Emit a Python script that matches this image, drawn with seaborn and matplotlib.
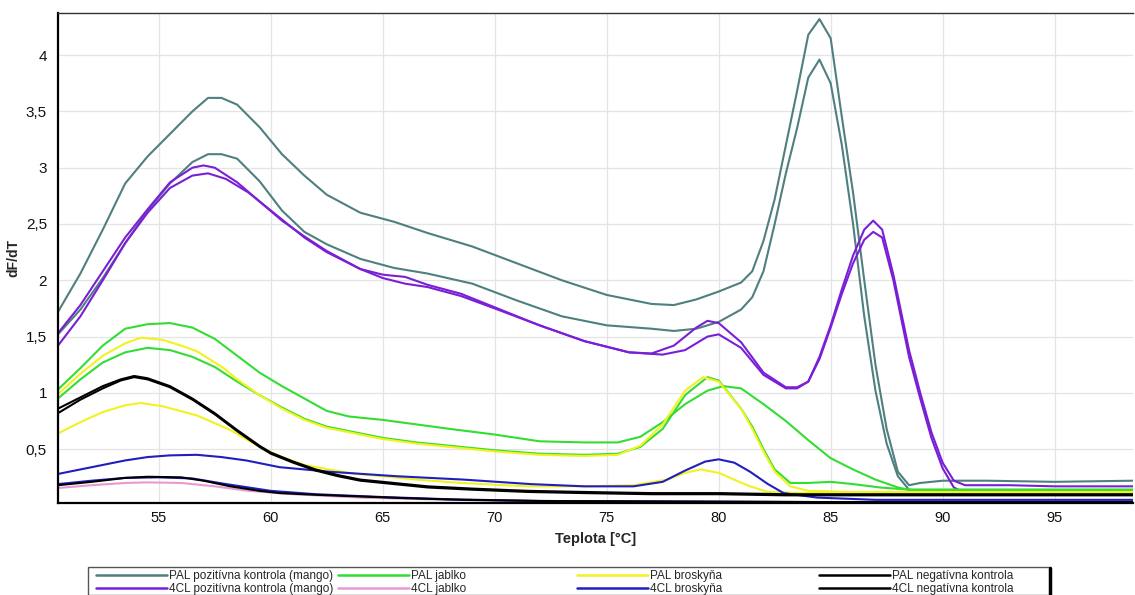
import matplotlib
matplotlib.use("Agg")
import matplotlib.pyplot as plt
from matplotlib.lines import Line2D
from matplotlib.patches import Rectangle
import seaborn as sns
import pandas as pd

# ---------------- data ----------------
series_names = [
    "PAL pozitívna kontrola (mango)", "PAL jablko", "PAL broskyňa", "PAL negatívna kontrola",
    "4CL pozitívna kontrola (mango)", "4CL jablko", "4CL broskyňa", "4CL negatívna kontrola",
]
series_colors = ["#4f7f7f", "#33dd33", "#f2f21e", "#000000",
                 "#7a1fd6", "#e79ad0", "#1f1fc0", "#000000"]

x_ticks = [55, 60, 65, 70, 75, 80, 85, 90, 95]
y_ticks = [0.5, 1, 1.5, 2, 2.5, 3, 3.5, 4]
y_tick_labels = ["0,5", "1", "1,5", "2", "2,5", "3", "3,5", "4"]

# PAL pozitívna kontrola (mango) - two replicates
pal_poz_t1 = [50.5, 51.5, 52.5, 53.5, 54.5, 55.5, 56.5, 57.2, 57.8, 58.5, 59.5, 60.5, 61.5, 62.5, 64, 65.5, 67, 69, 71, 73, 75, 77, 78, 79, 80, 81, 81.5, 82, 82.5, 83, 83.5, 84, 84.5, 85, 85.5, 86, 86.5, 87, 87.5, 88, 88.5, 89, 90, 92, 95, 98.5]
pal_poz_v1 = [1.72, 2.06, 2.45, 2.86, 3.10, 3.30, 3.50, 3.62, 3.62, 3.56, 3.36, 3.12, 2.93, 2.76, 2.60, 2.52, 2.42, 2.30, 2.15, 2.00, 1.87, 1.79, 1.78, 1.83, 1.90, 1.98, 2.08, 2.35, 2.72, 3.20, 3.68, 4.18, 4.32, 4.15, 3.45, 2.78, 2.00, 1.25, 0.68, 0.30, 0.18, 0.20, 0.22, 0.22, 0.21, 0.22]
pal_poz_t2 = [50.5, 51.5, 52.5, 53.5, 54.5, 55.5, 56.5, 57.2, 57.8, 58.5, 59.5, 60.5, 61.5, 62.5, 64, 65.5, 67, 69, 71, 73, 75, 77, 78, 79, 80, 81, 81.5, 82, 82.5, 83, 83.5, 84, 84.5, 85, 85.5, 86, 86.5, 87, 87.5, 88, 88.5, 89, 90, 92, 95, 98.5]
pal_poz_v2 = [1.52, 1.74, 2.02, 2.33, 2.62, 2.86, 3.05, 3.12, 3.12, 3.08, 2.88, 2.62, 2.43, 2.32, 2.19, 2.11, 2.06, 1.97, 1.82, 1.68, 1.60, 1.57, 1.55, 1.57, 1.63, 1.74, 1.85, 2.08, 2.50, 2.95, 3.35, 3.80, 3.96, 3.75, 3.20, 2.50, 1.68, 1.02, 0.55, 0.26, 0.14, 0.13, 0.13, 0.13, 0.13, 0.13]

# 4CL pozitívna kontrola (mango)
cl_poz_t1 = [50.5, 51.5, 52.5, 53.5, 54.5, 55.5, 56.5, 57, 57.5, 58.5, 59.5, 60.5, 61.5, 62.5, 64, 65, 66, 67, 68.5, 70, 72, 74, 76, 77, 78, 79, 79.5, 80, 81, 82, 83, 83.5, 84, 84.5, 85, 85.5, 86, 86.5, 86.9, 87.3, 87.8, 88.5, 89, 89.5, 90, 90.5, 91, 93, 95, 98.5]
cl_poz_v1 = [1.53, 1.78, 2.08, 2.38, 2.63, 2.87, 3.00, 3.02, 3.00, 2.87, 2.70, 2.53, 2.39, 2.26, 2.10, 2.05, 2.03, 1.96, 1.88, 1.76, 1.60, 1.46, 1.36, 1.35, 1.42, 1.58, 1.64, 1.62, 1.45, 1.18, 1.05, 1.05, 1.10, 1.32, 1.60, 1.92, 2.22, 2.45, 2.53, 2.45, 2.05, 1.38, 1.00, 0.65, 0.38, 0.22, 0.18, 0.18, 0.17, 0.17]
cl_poz_t2 = [50.5, 51.5, 52.5, 53.5, 54.5, 55.5, 56.5, 57.2, 58, 59, 60, 61.5, 62.5, 64, 65, 66, 67, 68.5, 70, 72, 74, 76, 77.5, 78.5, 79.5, 80, 81, 82, 83, 83.5, 84, 84.5, 85, 85.5, 86, 86.5, 86.9, 87.3, 87.8, 88.5, 89, 89.5, 90, 90.5, 91, 95, 98.5]
cl_poz_v2 = [1.42, 1.68, 2.00, 2.33, 2.60, 2.82, 2.93, 2.95, 2.90, 2.78, 2.62, 2.38, 2.25, 2.10, 2.02, 1.97, 1.94, 1.86, 1.75, 1.60, 1.46, 1.36, 1.34, 1.38, 1.50, 1.52, 1.40, 1.16, 1.04, 1.04, 1.10, 1.30, 1.58, 1.88, 2.15, 2.36, 2.43, 2.38, 2.00, 1.32, 0.95, 0.60, 0.33, 0.16, 0.11, 0.11, 0.11]

# PAL jablko
pal_jab_t1 = [50.5, 51.5, 52.5, 53.5, 54.5, 55.5, 56.5, 57.5, 58.5, 59.5, 60.5, 61.5, 62.5, 63.5, 65, 66.5, 68, 70, 72, 74, 75.5, 76.5, 77.5, 78.5, 79.5, 80.2, 81, 82, 83, 84, 85, 86, 87, 88, 88.5, 90, 95, 98.5]
pal_jab_v1 = [1.03, 1.22, 1.42, 1.57, 1.61, 1.62, 1.58, 1.48, 1.33, 1.18, 1.06, 0.95, 0.84, 0.79, 0.76, 0.72, 0.68, 0.63, 0.57, 0.56, 0.56, 0.61, 0.74, 0.90, 1.02, 1.06, 1.04, 0.90, 0.75, 0.58, 0.42, 0.32, 0.23, 0.16, 0.14, 0.14, 0.14, 0.14]
pal_jab_t2 = [50.5, 51.5, 52.5, 53.5, 54.5, 55.5, 56.5, 57.5, 58.5, 59.5, 60.5, 61.5, 62.5, 63.5, 65, 66.5, 68, 70, 72, 74, 75.5, 76.5, 77.5, 78.5, 79.5, 80, 81, 81.5, 82, 82.5, 83.2, 84, 85, 86, 87.2, 88.5, 95, 98.5]
pal_jab_v2 = [0.95, 1.12, 1.27, 1.36, 1.40, 1.38, 1.32, 1.23, 1.10, 0.98, 0.87, 0.77, 0.70, 0.66, 0.60, 0.56, 0.53, 0.49, 0.46, 0.45, 0.46, 0.52, 0.68, 0.98, 1.14, 1.11, 0.86, 0.70, 0.50, 0.32, 0.20, 0.20, 0.21, 0.19, 0.16, 0.14, 0.14, 0.14]

# PAL broskyňa
pal_bro_t1 = [50.5, 51.5, 52.5, 53.5, 54.2, 55.2, 56, 56.7, 57.9, 58.5, 59.5, 60.5, 61.5, 62.5, 63.5, 65, 66.5, 68, 70, 72, 74, 75.5, 76.5, 77.5, 78.5, 79.3, 80, 81, 81.5, 82, 82.5, 83.2, 84, 86, 90, 95, 98.5]
pal_bro_v1 = [0.99, 1.17, 1.33, 1.44, 1.49, 1.47, 1.42, 1.37, 1.22, 1.12, 0.98, 0.86, 0.76, 0.69, 0.65, 0.59, 0.55, 0.52, 0.48, 0.45, 0.44, 0.45, 0.53, 0.72, 1.02, 1.14, 1.10, 0.86, 0.68, 0.48, 0.30, 0.17, 0.13, 0.12, 0.12, 0.12, 0.12]
pal_bro_t2 = [50.5, 51.5, 52.5, 53.5, 54.2, 55.2, 56.7, 58.2, 59.6, 60.5, 61.5, 62.6, 63.8, 65, 66.5, 68.5, 71.5, 74, 76.2, 77.7, 78.5, 79.2, 80, 80.8, 81.4, 82.2, 84, 90, 98.5]
pal_bro_v2 = [0.64, 0.74, 0.83, 0.89, 0.91, 0.88, 0.80, 0.67, 0.51, 0.43, 0.36, 0.32, 0.28, 0.26, 0.23, 0.20, 0.17, 0.17, 0.18, 0.23, 0.29, 0.32, 0.29, 0.22, 0.17, 0.12, 0.11, 0.11, 0.10]

# PAL negatívna kontrola
pal_neg_t = [50.5, 51.5, 52.5, 53.3, 53.9, 54.5, 55.5, 56.5, 57.5, 58.5, 59.5, 60, 61, 62, 63, 64, 65.5, 67, 69, 71.5, 74, 77, 80, 83, 88, 93, 98.5]
pal_neg_v1 = [0.86, 0.96, 1.06, 1.12, 1.15, 1.13, 1.06, 0.95, 0.82, 0.67, 0.53, 0.47, 0.39, 0.32, 0.27, 0.23, 0.20, 0.17, 0.15, 0.13, 0.12, 0.11, 0.11, 0.10, 0.10, 0.10, 0.10]
pal_neg_v2 = [0.82, 0.94, 1.04, 1.11, 1.14, 1.12, 1.05, 0.94, 0.81, 0.66, 0.52, 0.46, 0.38, 0.31, 0.26, 0.22, 0.19, 0.16, 0.14, 0.12, 0.11, 0.10, 0.10, 0.09, 0.09, 0.09, 0.09]

# 4CL jablko
cl_jab_t = [50.5, 52, 53.5, 54.5, 56, 57.5, 59, 61, 64, 68, 72, 78, 85, 98.5]
cl_jab_v = [0.155, 0.18, 0.20, 0.205, 0.20, 0.17, 0.13, 0.10, 0.07, 0.05, 0.04, 0.035, 0.03, 0.03]

# 4CL broskyňa
cl_bro_t1 = [50.5, 51.5, 52.5, 53.5, 54.5, 55.5, 56.7, 57.8, 58.9, 60.4, 62.6, 65.6, 68.6, 71.6, 74, 76.2, 77.5, 78.5, 79.4, 80, 80.7, 81.4, 82.2, 82.9, 84.4, 87, 92, 98.5]
cl_bro_v1 = [0.28, 0.32, 0.36, 0.40, 0.43, 0.445, 0.45, 0.43, 0.40, 0.34, 0.30, 0.26, 0.23, 0.19, 0.17, 0.17, 0.21, 0.31, 0.39, 0.41, 0.38, 0.30, 0.19, 0.11, 0.07, 0.05, 0.05, 0.05]
cl_bro_t2 = [50.5, 52, 53.5, 55, 56.5, 58, 60, 62, 65, 68, 72, 78, 85, 98.5]
cl_bro_v2 = [0.19, 0.22, 0.245, 0.25, 0.24, 0.19, 0.13, 0.10, 0.075, 0.055, 0.04, 0.035, 0.03, 0.03]

# 4CL negatívna kontrola
cl_neg_t = [50.5, 52, 53.5, 54.5, 56, 57, 58.2, 59.5, 60.4, 62, 64, 66, 68.6, 72, 78, 85, 98.5]
cl_neg_v = [0.18, 0.21, 0.245, 0.255, 0.25, 0.22, 0.17, 0.13, 0.11, 0.095, 0.08, 0.065, 0.05, 0.04, 0.035, 0.03, 0.03]

curves = [
    (series_names[0], "a", pal_poz_t1, pal_poz_v1),
    (series_names[0], "b", pal_poz_t2, pal_poz_v2),
    (series_names[4], "a", cl_poz_t1, cl_poz_v1),
    (series_names[4], "b", cl_poz_t2, cl_poz_v2),
    (series_names[1], "a", pal_jab_t1, pal_jab_v1),
    (series_names[1], "b", pal_jab_t2, pal_jab_v2),
    (series_names[2], "a", pal_bro_t1, pal_bro_v1),
    (series_names[2], "b", pal_bro_t2, pal_bro_v2),
    (series_names[5], "a", cl_jab_t, cl_jab_v),
    (series_names[6], "a", cl_bro_t1, cl_bro_v1),
    (series_names[6], "b", cl_bro_t2, cl_bro_v2),
    (series_names[3], "a", pal_neg_t, pal_neg_v1),
    (series_names[3], "b", pal_neg_t, pal_neg_v2),
    (series_names[7], "a", cl_neg_t, cl_neg_v),
]

rows = []
for name, rep, ts, vs in curves:
    for t, v in zip(ts, vs):
        rows.append({"series": name, "rep": rep, "temp": t, "dfdt": v})
df = pd.DataFrame(rows)

palette = dict(zip(series_names, series_colors))
draw_order = [series_names[i] for i in (0, 4, 1, 2, 5, 6, 3, 7)]

# ---------------- plot ----------------
sns.set_theme(style="white")
plt.rcParams["font.family"] = ["Liberation Sans", "DejaVu Sans"]

fig = plt.figure(figsize=(11.35, 5.95), dpi=100)
ax = fig.add_axes([58 / 1135, 1 - 503 / 595, (1133 - 58) / 1135, (503 - 13) / 595])

sns.lineplot(data=df, x="temp", y="dfdt", hue="series", units="rep",
             estimator=None, sort=False, palette=palette, hue_order=draw_order,
             legend=False, linewidth=1.5, ax=ax)

ax.set_xlim(50.5, 98.5)
ax.set_ylim(0.022, 4.374)
ax.set_xticks(x_ticks)
ax.set_xticklabels([str(v) for v in x_ticks], fontsize=10.5)
ax.set_yticks(y_ticks)
ax.set_yticklabels(y_tick_labels, fontsize=11)
ax.tick_params(axis="x", length=0, pad=6, colors="#111111")
ax.tick_params(axis="y", length=0, pad=8, colors="#111111")
ax.grid(True, color="#e4e4e4", linewidth=0.9)
for s in ["left", "bottom"]:
    ax.spines[s].set_color("#000000")
    ax.spines[s].set_linewidth(1.6)
ax.spines["top"].set_color("#333333")
ax.spines["top"].set_linewidth(1.0)
ax.spines["right"].set_visible(False)

ax.set_xlabel("Teplota [°C]", fontsize=10.5, fontweight="bold", labelpad=5)
ax.set_ylabel("dF/dT", fontsize=10, fontweight="bold", labelpad=4)

# ---------------- legend ----------------
fig.add_artist(Rectangle((88 / 1135, 0), (1050 - 88) / 1135, 1 - 567 / 595,
                         transform=fig.transFigure, facecolor="white",
                         edgecolor="#555555", linewidth=1.0, clip_on=False))
fig.add_artist(Line2D([1050 / 1135, 1050 / 1135], [0, 1 - 568 / 595],
                      transform=fig.transFigure, color="black", linewidth=2.5))

col_x = [96, 338, 577, 819]
pairs = [(0, 4), (1, 5), (2, 6), (3, 7)]
for cx, (i, j) in zip(col_x, pairs):
    handles = [Line2D([], [], color=series_colors[k], linewidth=1.8) for k in (i, j)]
    fig.legend(handles, [series_names[i], series_names[j]],
               loc="upper left", bbox_to_anchor=(cx / 1135, 1 - 570 / 595),
               frameon=False, handlelength=6.0,
               handletextpad=0.15, labelspacing=0.12, borderpad=0,
               borderaxespad=0, prop={"size": 8.5})

fig.savefig("out.png", dpi=100)
